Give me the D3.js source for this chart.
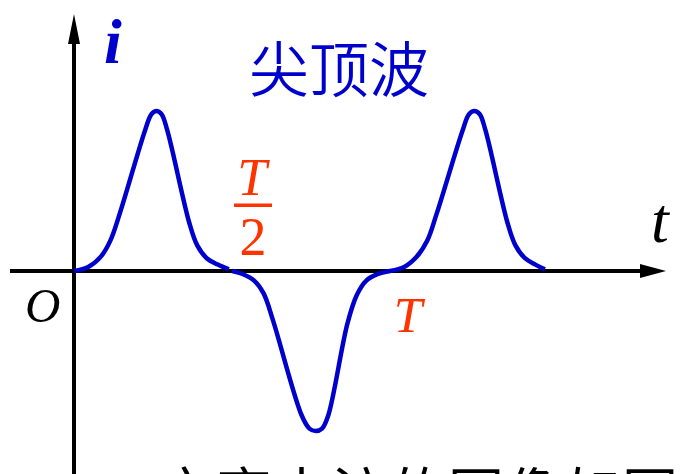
<!DOCTYPE html>
<html>
<head>
<meta charset="utf-8">
<script src="https://cdn.jsdelivr.net/npm/d3@7"></script>
<style>
  body { margin: 0; background: #fff; }
  svg { display: block; }
</style>
</head>
<body>
<script>
// peaked wave (尖顶波) - i against t, t in units of the period T, i normalised to the peak

var crestA = [
    [0, 0], [0.045, 0.025], [0.085, 0.09], [0.115, 0.19], [0.145, 0.36],
    [0.225, 0.88], [0.245, 0.98], [0.261, 1.0], [0.277, 0.98], [0.295, 0.88],
    [0.365, 0.3], [0.39, 0.16], [0.42, 0.08], [0.455, 0.04], [0.49, 0.01]
];
var trough = [
    [0.5, 0], [0.535, -0.02], [0.57, -0.06], [0.6, -0.14], [0.63, -0.31],
    [0.72, -0.9], [0.745, -0.985], [0.765, -1.0], [0.785, -0.985], [0.805, -0.9],
    [0.865, -0.33], [0.895, -0.15], [0.925, -0.06], [0.96, -0.02], [1.0, 0]
];
var crestB = [
    [1.0, 0], [1.045, 0.025], [1.085, 0.09], [1.118, 0.19], [1.148, 0.36],
    [1.23, 0.88], [1.25, 0.98], [1.267, 1.0], [1.284, 0.98], [1.302, 0.88],
    [1.372, 0.3], [1.397, 0.16], [1.427, 0.08], [1.46, 0.04], [1.49, 0.01]
];

var tickLabels = [
    { t: 0.5, text: "T", denom: "2" },
    { t: 1.0, text: "T" }
];
var title = "尖顶波";
var bottomLine = "交变电流的图像如图所示";

var width = 680,
    height = 474;

var svg = d3.select(document.body).append("svg")
    .attr("width", width)
    .attr("height", height);

var x = d3.scaleLinear().domain([0, 1.5]).range([74, 548]);
var y = d3.scaleLinear().domain([-1, 1]).range([431, 111]);

var blue = "#0000cc",
    red = "#ff3300";

// axes
svg.append("line")
    .attr("x1", 10).attr("x2", 642)
    .attr("y1", y(0)).attr("y2", y(0))
    .attr("stroke", "#000").attr("stroke-width", 4);
svg.append("path")
    .attr("d", "M640," + (y(0) - 7) + "L666," + y(0) + "L640," + (y(0) + 7) + "Z")
    .attr("fill", "#000");

svg.append("line")
    .attr("x1", x(0)).attr("x2", x(0))
    .attr("y1", height).attr("y2", 40)
    .attr("stroke", "#000").attr("stroke-width", 4);
svg.append("path")
    .attr("d", "M" + (x(0) - 6) + ",44L" + x(0) + ",14L" + (x(0) + 6) + ",44Z")
    .attr("fill", "#000");

// curve
var line = d3.line()
    .x((d) => x(d[0]))
    .y((d) => y(d[1]))
    .curve(d3.curveCatmullRom.alpha(0.5));

svg.selectAll("path.wave")
    .data([crestA, trough, crestB])
    .join("path")
    .attr("class", "wave")
    .attr("d", line)
    .attr("fill", "none")
    .attr("stroke", blue)
    .attr("stroke-width", 4.5)
    .attr("stroke-linejoin", "round");

// labels
var serif = "'Liberation Serif', 'Times New Roman', serif";

svg.append("text")
    .attr("x", 104).attr("y", 63)
    .attr("font-family", serif)
    .attr("font-style", "italic")
    .attr("font-weight", "bold")
    .attr("font-size", 64)
    .attr("fill", blue)
    .text("i");

svg.append("text")
    .attr("x", 651).attr("y", 242)
    .attr("font-family", serif)
    .attr("font-style", "italic")
    .attr("font-size", 64)
    .attr("fill", "#000")
    .text("t");

svg.append("text")
    .attr("x", 25).attr("y", 322)
    .attr("font-family", serif)
    .attr("font-style", "italic")
    .attr("font-size", 49)
    .attr("fill", "#000")
    .text("O");

svg.append("text")
    .attr("x", 339).attr("y", 92)
    .attr("text-anchor", "middle")
    .attr("font-family", "'Noto Sans CJK SC'")
    .attr("font-weight", 350)
    .attr("font-size", 60)
    .attr("fill", blue)
    .text(title);

// T/2 above the axis, T below it
var half = tickLabels[0];
var g = svg.append("g")
    .attr("font-family", serif)
    .attr("fill", red)
    .attr("text-anchor", "middle");
g.append("text")
    .attr("x", x(half.t) + 20).attr("y", 195)
    .attr("font-style", "italic")
    .attr("font-size", 53)
    .text(half.text);
g.append("rect")
    .attr("x", x(half.t) + 2).attr("y", 203.5)
    .attr("width", 38).attr("height", 3.5);
g.append("text")
    .attr("x", x(half.t) + 21).attr("y", 255)
    .attr("font-size", 54)
    .text(half.denom);

var full = tickLabels[1];
g.append("text")
    .attr("x", x(full.t) + 18).attr("y", 332)
    .attr("font-style", "italic")
    .attr("font-size", 51)
    .text(full.text);

// next line of the slide, cut by the frame
svg.append("text")
    .attr("x", 158).attr("y", 514)
    .attr("font-family", "'Noto Sans CJK SC'")
    .attr("font-size", 56)
    .attr("letter-spacing", 2)
    .attr("fill", "#000")
    .text(bottomLine);
</script>
</body>
</html>
